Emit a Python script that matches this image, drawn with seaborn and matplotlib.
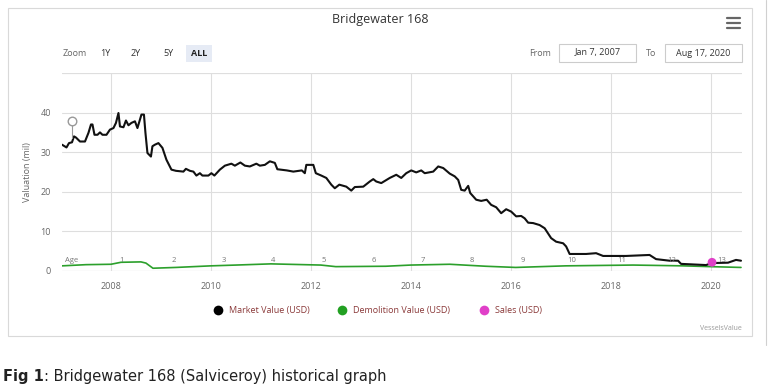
import matplotlib
matplotlib.use("Agg")
import matplotlib.pyplot as plt
import seaborn as sns
import pandas as pd
from matplotlib.patches import Rectangle
from matplotlib.lines import Line2D

# ---------------- data ----------------
mv_t = [2007.02, 2007.11, 2007.16, 2007.22, 2007.26, 2007.30, 2007.38, 2007.48, 2007.55, 2007.60,
        2007.63, 2007.67, 2007.73, 2007.78, 2007.83, 2007.91, 2007.98, 2008.05, 2008.10, 2008.15,
        2008.18, 2008.25, 2008.30, 2008.35, 2008.41, 2008.48, 2008.53, 2008.58, 2008.61, 2008.66,
        2008.69, 2008.73, 2008.80, 2008.83, 2008.88, 2008.95, 2009.03, 2009.11, 2009.21, 2009.30,
        2009.45, 2009.50, 2009.58, 2009.65, 2009.71, 2009.78, 2009.83, 2009.95, 2010.01, 2010.07,
        2010.18, 2010.28, 2010.41, 2010.48, 2010.59, 2010.68, 2010.78, 2010.91, 2010.98, 2011.08,
        2011.18, 2011.28, 2011.33, 2011.52, 2011.65, 2011.82, 2011.88, 2011.91, 2012.05, 2012.10,
        2012.21, 2012.31, 2012.41, 2012.48, 2012.57, 2012.71, 2012.81, 2012.88, 2013.05, 2013.18,
        2013.25, 2013.31, 2013.41, 2013.58, 2013.71, 2013.81, 2013.91, 2014.01, 2014.11, 2014.21,
        2014.28, 2014.45, 2014.55, 2014.65, 2014.78, 2014.88, 2014.95, 2015.01, 2015.08, 2015.15,
        2015.19, 2015.31, 2015.41, 2015.52, 2015.61, 2015.71, 2015.81, 2015.91, 2016.01, 2016.11,
        2016.21, 2016.28, 2016.35, 2016.45, 2016.58, 2016.68, 2016.81, 2016.91, 2017.05, 2017.11,
        2017.18, 2017.51, 2017.71, 2017.85, 2018.31, 2018.78, 2018.91, 2019.18, 2019.35, 2019.41,
        2019.91, 2020.03, 2020.35, 2020.51, 2020.61]
mv_v = [31.9, 31.2, 32.3, 32.5, 34.0, 33.7, 32.7, 32.7, 34.9, 37.0,
        37.0, 34.4, 34.4, 35.0, 34.4, 34.4, 35.7, 36.1, 37.4, 39.9,
        36.5, 36.3, 38.0, 36.8, 37.4, 37.8, 36.1, 38.2, 39.5, 39.5,
        34.9, 29.8, 28.9, 31.5, 31.9, 32.3, 31.1, 28.1, 25.6, 25.3,
        25.1, 25.8, 25.3, 25.1, 24.1, 24.7, 24.1, 24.1, 24.7, 24.1,
        25.6, 26.6, 27.1, 26.6, 27.4, 26.6, 26.4, 27.1, 26.6, 26.8,
        27.7, 27.3, 25.7, 25.4, 25.1, 25.4, 24.7, 26.8, 26.8, 24.7,
        24.1, 23.5, 21.8, 20.9, 21.8, 21.3, 20.3, 21.2, 21.3, 22.6,
        23.2, 22.6, 22.2, 23.5, 24.3, 23.5, 24.7, 25.4, 24.9, 25.4,
        24.7, 25.1, 26.4, 26.0, 24.6, 23.9, 23.0, 20.5, 20.3, 21.5,
        19.7, 18.0, 17.7, 18.0, 16.7, 16.1, 14.6, 15.6, 15.0, 13.8,
        13.9, 13.3, 12.2, 12.1, 11.6, 10.8, 8.3, 7.4, 7.0, 6.2,
        4.3, 4.3, 4.5, 3.8, 3.8, 4.05, 3.0, 2.6, 2.6, 1.8,
        1.5, 2.0, 2.1, 2.8, 2.6]

dv_t = [2007.02, 2007.5, 2008.0, 2008.2, 2008.6, 2008.7, 2008.84, 2009.3, 2010.0, 2010.5,
        2011.2, 2012.2, 2012.5, 2013.5, 2014.0, 2014.78, 2015.5, 2016.1, 2017.1, 2018.45,
        2019.45, 2020.0, 2020.61]
dv_v = [1.3, 1.6, 1.7, 2.2, 2.3, 2.0, 0.7, 0.9, 1.3, 1.5,
        1.8, 1.5, 1.1, 1.2, 1.5, 1.7, 1.2, 0.9, 1.3, 1.5,
        1.3, 1.1, 0.9]

sale_t = [2020.03]
sale_v = [2.2]

flag_t = 2007.23
flag_v = 38.0
flag_base = 33.6

age_labels = ["Age", "1", "2", "3", "4", "5", "6", "7", "8", "9", "10", "11", "12", "13"]
age_t = [2007.22, 2008.21, 2009.25, 2010.25, 2011.25, 2012.25, 2013.25, 2014.25, 2015.22,
         2016.24, 2017.22, 2018.22, 2019.22, 2020.22]

year_ticks = [2008, 2010, 2012, 2014, 2016, 2018, 2020]
y_ticks = [0, 10, 20, 30, 40]

# ---------------- figure ----------------
sns.set_theme(style="white")
plt.rcParams['font.family'] = ['Open Sans', 'DejaVu Sans']

W, H = 770, 387
fig = plt.figure(figsize=(W / 100, H / 100), dpi=100)
fig.patch.set_facecolor("white")

def fx(px):
    return px / W

def fy(py):
    return 1 - py / H

# outer chart box
fig.patches.append(Rectangle((fx(8), fy(336)), fx(744), 328 / H, transform=fig.transFigure,
                             fill=False, edgecolor="#d9d9d9", linewidth=0.8))
fig.lines.append(Line2D([fx(766), fx(766)], [fy(0), fy(345)], transform=fig.transFigure,
                        color="#d0d0d0", linewidth=0.8))

# axes
ax = fig.add_axes([fx(62), fy(271), 680 / W, 198 / H])
df_mv = pd.DataFrame({"t": mv_t, "v": mv_v})
df_dv = pd.DataFrame({"t": dv_t, "v": dv_v})
df_s = pd.DataFrame({"t": sale_t, "v": sale_v})

sns.lineplot(data=df_dv, x="t", y="v", ax=ax, color="#2ca02c", linewidth=1.2,
             estimator=None, sort=False, zorder=3)
sns.lineplot(data=df_mv, x="t", y="v", ax=ax, color="#111111", linewidth=1.5,
             estimator=None, sort=False, zorder=4)
sns.scatterplot(data=df_s, x="t", y="v", ax=ax, color="#e040c8", s=40, edgecolor="none",
                zorder=6)

# flag marker
ax.plot([flag_t, flag_t], [flag_base, flag_v - 1.0], color="#999999", linewidth=0.8, zorder=5)
ax.scatter([flag_t], [flag_v], s=38, facecolor="white", edgecolor="#999999", linewidth=1.0,
           zorder=6)

# age labels
for lab, t in zip(age_labels, age_t):
    ax.text(t, 2.6, lab, fontsize=5.5, color="#777777", ha="center", va="center", zorder=5)

ax.set_xlim(2007.02, 2020.63)
ax.set_ylim(0, 50)
ax.set_xticks(year_ticks)
ax.set_xticklabels([str(y) for y in year_ticks])
ax.set_yticks(y_ticks + [50])
ax.set_yticklabels([str(y) for y in y_ticks] + [""])
ax.grid(True, color="#dedede", linewidth=0.8)
ax.set_axisbelow(True)
for s in ["left", "right", "bottom", "top"]:
    ax.spines[s].set_visible(False)
ax.axhline(0, color="#cccccc", linewidth=0.8, zorder=1)
ax.axhline(50, color="#dedede", linewidth=0.8, zorder=1)
ax.tick_params(axis="both", length=0, labelsize=6.5, labelcolor="#666666")
ax.tick_params(axis="x", pad=8)
ax.tick_params(axis="y", pad=8)
ax.set_xlabel("")
ax.set_ylabel("Valuation (mil)", fontsize=6.5, color="#666666", labelpad=6)

# title & controls
fig.text(fx(380), fy(19), "Bridgewater 168", fontsize=9, color="#333333", ha="center", va="center")
for yy in (18, 23, 28):
    fig.lines.append(Line2D([fx(727), fx(740)], [fy(yy), fy(yy)], transform=fig.transFigure,
                            color="#666666", linewidth=1.6))
fig.text(fx(63), fy(53), "Zoom", fontsize=6.5, color="#666666", ha="left", va="center")
fig.patches.append(Rectangle((fx(186), fy(62)), 26 / W, 17 / H, transform=fig.transFigure,
                             facecolor="#e6ebf5", edgecolor="none"))
for lab, x in [("1Y", 105), ("2Y", 136), ("5Y", 168)]:
    fig.text(fx(x), fy(53), lab, fontsize=6.5, color="#333333", ha="center", va="center")
fig.text(fx(199), fy(53), "ALL", fontsize=6.5, color="#222222", ha="center", va="center",
         fontweight="bold")
fig.text(fx(540), fy(53), "From", fontsize=6.5, color="#666666", ha="center", va="center")
fig.text(fx(651), fy(53), "To", fontsize=6.5, color="#666666", ha="center", va="center")
for x0, x1, lab in [(559, 636, "Jan 7, 2007"), (665, 742, "Aug 17, 2020")]:
    fig.patches.append(Rectangle((fx(x0), fy(62)), (x1 - x0) / W, 18 / H,
                                 transform=fig.transFigure, fill=False, edgecolor="#cccccc",
                                 linewidth=0.8))
    fig.text(fx((x0 + x1) / 2), fy(53), lab, fontsize=6.5, color="#333333", ha="center",
             va="center")

# legend
leg = [("#000000", "Market Value (USD)", 218), ("#22a022", "Demolition Value (USD)", 342),
       ("#e040c8", "Sales (USD)", 484)]
for col, lab, x in leg:
    fig.lines.append(Line2D([fx(x)], [fy(310)], transform=fig.transFigure, marker="o",
                            markersize=7, markerfacecolor=col, markeredgecolor="none",
                            linestyle="none"))
    fig.text(fx(x + 11), fy(310), lab, fontsize=6.5, color="#8b3a3a", ha="left", va="center")

fig.text(fx(742), fy(328), "VesselsValue", fontsize=5, color="#999999", ha="right", va="center")

# caption
t1 = fig.text(fx(3), fy(376), "Fig 1", fontsize=10.5, color="#222222", ha="left", va="center",
              fontweight="bold", family="DejaVu Sans")
fig.canvas.draw()
bb = t1.get_window_extent(renderer=fig.canvas.get_renderer())
fig.text(bb.x1 / W, fy(376), ": Bridgewater 168 (Salviceroy) historical graph", fontsize=10.5,
         color="#222222", ha="left", va="center", family="DejaVu Sans")

fig.savefig("out.png", dpi=100, facecolor="white")
